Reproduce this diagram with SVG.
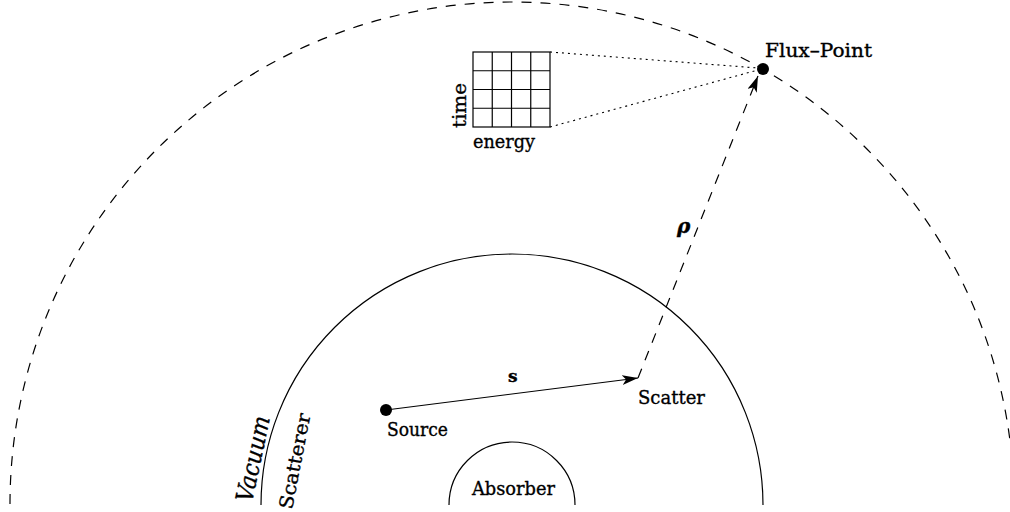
<svg xmlns="http://www.w3.org/2000/svg" width="1010" height="512" viewBox="0 0 1010 512">
<style>
text{font-family:"DejaVu Serif","Liberation Serif",serif;fill:#000;font-size:19px;stroke:#000;stroke-width:0.35}
.ln{fill:none;stroke:#000;stroke-width:1.2}
.dash{fill:none;stroke:#000;stroke-width:1.2;stroke-dasharray:10 9}
.dot{fill:none;stroke:#000;stroke-width:1.1;stroke-dasharray:2 4}
</style>
<defs>
<marker id="ah" viewBox="0 0 16 10" refX="16" refY="5" markerWidth="16" markerHeight="10" markerUnits="userSpaceOnUse" orient="auto">
<path d="M0,0 L16,5 L0,10 L4,5 Z" fill="#000"/>
</marker>
</defs>
<rect width="1010" height="512" fill="#fff"/>
<g id="outer-boundary">
<path class="dash" d="M10,504 A502,502 0 0 1 1014,504"/>
</g>
<g id="scatterer">
<path class="ln" d="M261,505 A251,251 0 0 1 763,505"/>
<text transform="translate(252,503) rotate(-78)" style="font-style:italic;font-size:24px" textLength="87" lengthAdjust="spacingAndGlyphs">Vacuum</text>
<text transform="translate(292,510) rotate(-79)" textLength="97" lengthAdjust="spacingAndGlyphs">Scatterer</text>
</g>
<g id="absorber">
<path class="ln" d="M449,505 A63,63 0 0 1 575,505"/>
<text x="472" y="495" textLength="83" lengthAdjust="spacingAndGlyphs">Absorber</text>
</g>
<g id="tally">
<g class="ln">
<rect x="473" y="52" width="77" height="75"/>
<path d="M492.25,52V127M511.5,52V127M530.75,52V127M473,70.75H550M473,89.5H550M473,108.25H550"/>
</g>
<text x="473" y="148" textLength="62" lengthAdjust="spacingAndGlyphs">energy</text>
<text transform="translate(466,128) rotate(-90)" textLength="45" lengthAdjust="spacingAndGlyphs">time</text>
</g>
<g id="source">
<circle cx="386" cy="410" r="6" fill="#000"/>
<text x="387" y="436" textLength="61" lengthAdjust="spacingAndGlyphs">Source</text>
</g>
<g id="scatter">
<text x="638" y="404" textLength="67" lengthAdjust="spacingAndGlyphs">Scatter</text>
</g>
<g id="flux-point">
<circle cx="763" cy="69" r="6" fill="#000"/>
<text x="765" y="57" textLength="107" lengthAdjust="spacingAndGlyphs">Flux–Point</text>
</g>
<g id="connectors">
<line class="ln" x1="386" y1="410" x2="638" y2="378" marker-end="url(#ah)"/>
<line class="dash" x1="638" y1="378" x2="758" y2="76" marker-end="url(#ah)"/>
<line class="dot" x1="550" y1="52" x2="758" y2="68"/>
<line class="dot" x1="550" y1="127" x2="758" y2="70"/>
<text x="508" y="382" style="font-weight:bold;font-size:17px">s</text>
<text x="677" y="233" style="font-weight:bold;font-style:italic;font-size:20px">ρ</text>
</g>
</svg>
